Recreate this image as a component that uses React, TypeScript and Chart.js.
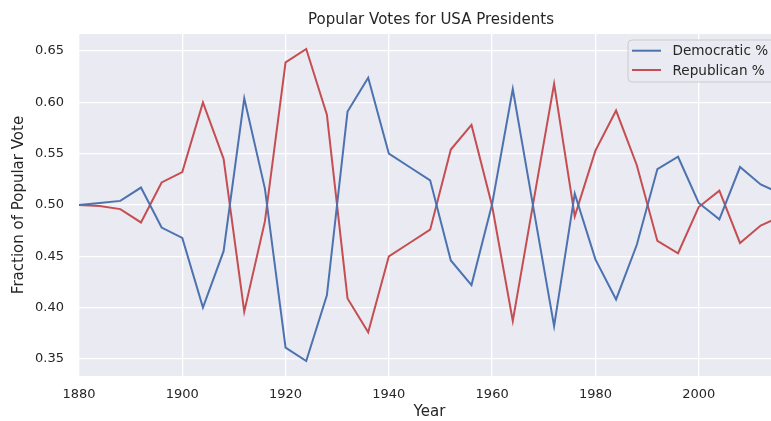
import React, { useEffect, useRef } from "react";
import { Chart, registerables } from "chart.js";

Chart.register(...registerables);

const years = [1880, 1884, 1888, 1892, 1896, 1900, 1904, 1908, 1912, 1916, 1920, 1924, 1928, 1932, 1936, 1940, 1944, 1948, 1952, 1956, 1960, 1964, 1968, 1972, 1976, 1980, 1984, 1988, 1992, 1996, 2000, 2004, 2008, 2012, 2016];
const democratic = [0.500, 0.502, 0.504, 0.517, 0.478, 0.468, 0.400, 0.455, 0.604, 0.516, 0.361, 0.348, 0.412, 0.591, 0.624, 0.550, 0.537, 0.524, 0.446, 0.422, 0.501, 0.613, 0.497, 0.382, 0.511, 0.447, 0.408, 0.461, 0.535, 0.547, 0.502, 0.486, 0.537, 0.520, 0.511];
const republican = [0.500, 0.499, 0.496, 0.483, 0.522, 0.532, 0.600, 0.545, 0.396, 0.484, 0.639, 0.652, 0.588, 0.409, 0.376, 0.450, 0.463, 0.476, 0.554, 0.578, 0.499, 0.387, 0.503, 0.618, 0.489, 0.553, 0.592, 0.539, 0.465, 0.453, 0.498, 0.514, 0.463, 0.480, 0.489];
const xTicks = [1880, 1900, 1920, 1940, 1960, 1980, 2000];
const yTicks = [0.35, 0.40, 0.45, 0.50, 0.55, 0.60, 0.65];
const seriesNames = ["Democratic %", "Republican %"];
const seriesColors = ["#4C72B0", "#C44E52"];
const titleText = "Popular Votes for USA Presidents";
const xLabel = "Year";
const yLabel = "Fraction of Popular Vote";

const FONT = "'DejaVu Sans', sans-serif";
const TEXT = "#262626";

const decorPlugin = {
  id: "decor",
  afterDraw(chart: any) {
    const ctx = chart.ctx;
    const ca = chart.chartArea;
    ctx.save();
    ctx.fillStyle = TEXT;
    ctx.textAlign = "center";
    ctx.textBaseline = "middle";
    ctx.font = `15px ${FONT}`;
    ctx.fillText(titleText, 431, 20);
    ctx.fillText(xLabel, 429.5, 412);
    ctx.save();
    ctx.translate(19.5, (ca.top + ca.bottom) / 2);
    ctx.rotate(-Math.PI / 2);
    ctx.fillText(yLabel, 0, 0);
    ctx.restore();

    // legend
    const lx = 628, ly = 40, lw = 160, lh = 42, r = 4;
    ctx.beginPath();
    ctx.moveTo(lx + r, ly);
    ctx.lineTo(lx + lw - r, ly);
    ctx.arcTo(lx + lw, ly, lx + lw, ly + r, r);
    ctx.lineTo(lx + lw, ly + lh - r);
    ctx.arcTo(lx + lw, ly + lh, lx + lw - r, ly + lh, r);
    ctx.lineTo(lx + r, ly + lh);
    ctx.arcTo(lx, ly + lh, lx, ly + lh - r, r);
    ctx.lineTo(lx, ly + r);
    ctx.arcTo(lx, ly, lx + r, ly, r);
    ctx.closePath();
    ctx.fillStyle = "rgba(234,234,242,0.85)";
    ctx.fill();
    ctx.strokeStyle = "#CCCCCC";
    ctx.lineWidth = 1;
    ctx.stroke();
    ctx.font = `13.6px ${FONT}`;
    ctx.textAlign = "left";
    seriesNames.forEach((name, i) => {
      const y = ly + 10.7 + i * 19.3;
      ctx.strokeStyle = seriesColors[i];
      ctx.lineWidth = 2;
      ctx.beginPath();
      ctx.moveTo(632, y);
      ctx.lineTo(661, y);
      ctx.stroke();
      ctx.fillStyle = TEXT;
      ctx.fillText(name, 672.5, y + 1);
    });
    ctx.restore();
  },
};

export default function App() {
  const ref = useRef<HTMLCanvasElement | null>(null);
  useEffect(() => {
    if (!ref.current) return;
    const chart = new Chart(ref.current, {
      type: "line",
      data: {
        datasets: [democratic, republican].map((vals, i) => ({
          label: seriesNames[i],
          data: years.map((y, j) => ({ x: y, y: vals[j] })),
          borderColor: seriesColors[i],
          backgroundColor: seriesColors[i],
          borderWidth: 2,
          pointRadius: 0,
          tension: 0,
        })),
      },
      options: {
        animation: false,
        responsive: false,
        maintainAspectRatio: false,
        layout: { padding: { top: 34, left: 0, right: 0, bottom: 0 } },
        plugins: { legend: { display: false }, title: { display: false }, tooltip: { enabled: false } },
        scales: {
          x: {
            type: "linear",
            min: 1880,
            max: 2014,
            afterBuildTicks: (s: any) => { s.ticks = xTicks.map((v) => ({ value: v })); },
            afterFit: (s: any) => { s.height = 45; },
            grid: { color: "#FFFFFF", lineWidth: 1.3, drawTicks: false },
            border: { display: false },
            ticks: { color: TEXT, font: { family: FONT, size: 13 }, padding: 11, maxRotation: 0, autoSkip: false, callback: (v: any) => String(v) },
          },
          y: {
            type: "linear",
            min: 0.3334,
            max: 0.6666,
            afterBuildTicks: (s: any) => { s.ticks = yTicks.map((v) => ({ value: v })); },
            afterFit: (s: any) => { s.width = 79; },
            grid: { color: "#FFFFFF", lineWidth: 1.3, drawTicks: false },
            border: { display: false },
            ticks: { color: TEXT, font: { family: FONT, size: 13 }, padding: 15, autoSkip: false, callback: (v: any) => Number(v).toFixed(2) },
          },
        },
      },
      plugins: [
        {
          id: "bg",
          beforeDraw(c: any) {
            const a = c.chartArea;
            c.ctx.save();
            c.ctx.fillStyle = "#EAEAF2";
            c.ctx.fillRect(a.left, a.top, a.right - a.left, a.bottom - a.top);
            c.ctx.restore();
          },
        },
        decorPlugin,
      ],
    } as any);
    return () => chart.destroy();
  }, []);
  return (
    <div style={{ position: "fixed", left: 0, top: 0, width: 771, height: 421, background: "#FFFFFF" }}>
      <canvas ref={ref} width={771} height={421} style={{ width: 771, height: 421, display: "block" }} />
    </div>
  );
}
